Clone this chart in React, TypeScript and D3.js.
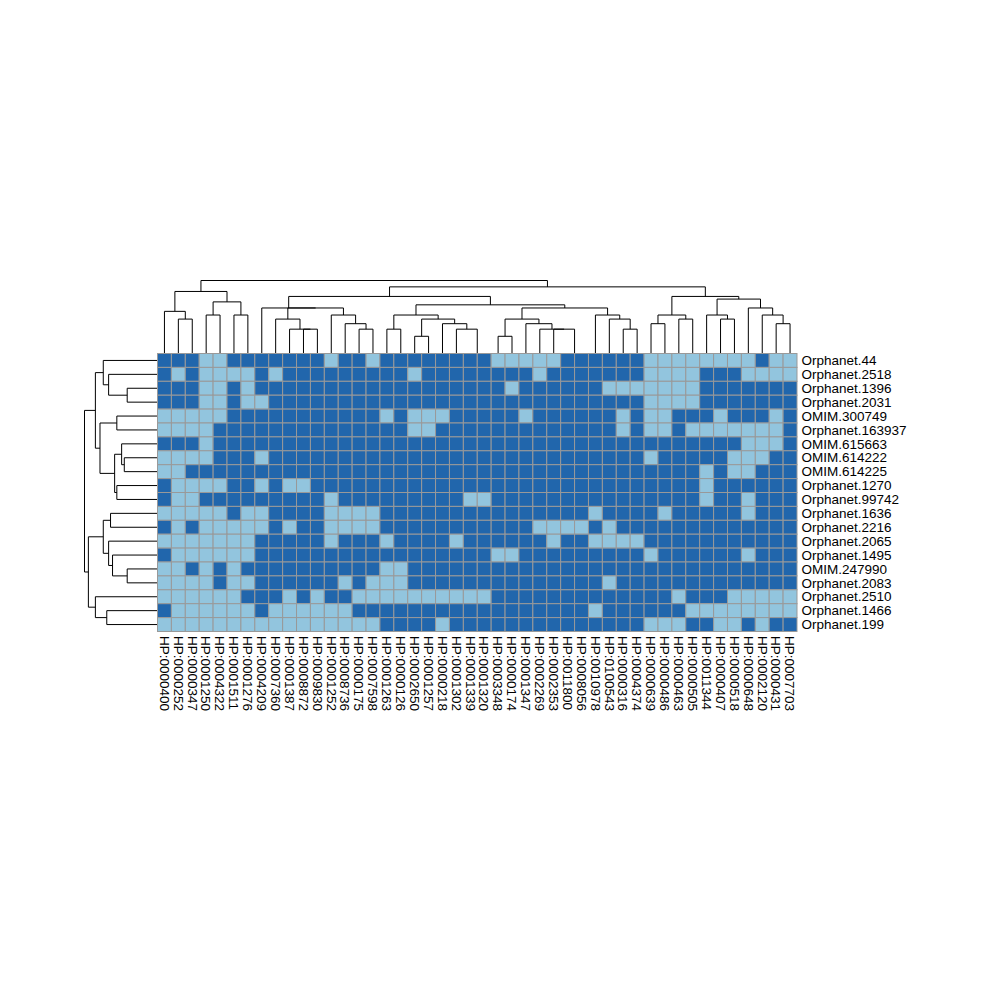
import React from 'react';
import * as d3 from 'd3';

const rowLabels = [
  'Orphanet.44', 'Orphanet.2518', 'Orphanet.1396', 'Orphanet.2031', 'OMIM.300749',
  'Orphanet.163937', 'OMIM.615663', 'OMIM.614222', 'OMIM.614225', 'Orphanet.1270',
  'Orphanet.99742', 'Orphanet.1636', 'Orphanet.2216', 'Orphanet.2065', 'Orphanet.1495',
  'OMIM.247990', 'Orphanet.2083', 'Orphanet.2510', 'Orphanet.1466', 'Orphanet.199',
];

const colLabels = [
  'HP:0000400', 'HP:0000252', 'HP:0000347', 'HP:0001250', 'HP:0004322', 'HP:0001511',
  'HP:0001276', 'HP:0004209', 'HP:0007360', 'HP:0001387', 'HP:0008872', 'HP:0009830',
  'HP:0001252', 'HP:0008736', 'HP:0000175', 'HP:0007598', 'HP:0001263', 'HP:0000126',
  'HP:0002650', 'HP:0001257', 'HP:0000218', 'HP:0001302', 'HP:0001339', 'HP:0001320',
  'HP:0003348', 'HP:0000174', 'HP:0001347', 'HP:0002269', 'HP:0002353', 'HP:0011800',
  'HP:0008056', 'HP:0010978', 'HP:0100543', 'HP:0000316', 'HP:0004374', 'HP:0000639',
  'HP:0000486', 'HP:0000463', 'HP:0000505', 'HP:0011344', 'HP:0000407', 'HP:0000518',
  'HP:0000648', 'HP:0002120', 'HP:0000431', 'HP:0007703',
];

// 1 = present (dark blue), 0 = absent (light blue); one string per row, in column order
const matrixRows = [
  '1110011111110110 111111110000011 111100000000100',
  '1010000101111111 110111111110111 111100001110000',
  '1110010111111111 111111111011111 100000001111111',
  '1110010011111111 111111111111111 111100001111111',
  '0000011111111111 010001111101111 110100111011101',
  '0000111111111111 110011111111111 110100100000001',
  '1110111111111111 111111111111111 111111111110001',
  '0000111011111111 111111111111111 111101111100011',
  '0011111111111111 111111111111111 111111110100111',
  '1000011010011111 111111111111111 111111110111111',
  '1001111111110111 111111001111111 111111110110111',
  '0000010011110000 111111111111111 011110111110111',
  '1010000010110000 111111111110000 101111111111111',
  '0000000111110111 011110111111011 000011111111111',
  '1000000111111111 111111110011111 111101111110111',
  '0010101111111111 001111111111111 111111111111111',
  '0000100111111010 001111111111111 101111111111111',
  '0000001110101100 000000001111111 111111011100000',
  '1000000100000011 111111111111111 011111100000000',
  '0000000000000000 111101111111111 111100011001011',
];

// dendrogram topologies (leaf = index in display order)
const rowTree: any = [
  [[0, [1, [2, 3]]], [[4, 5], [[6, [7, 8]], [9, 10]]]],
  [[[11, 12], [13, [14, [15, 16]]]], [17, [18, 19]]],
];
const colTree: any = [
  [[0, [1, 2]], [[3, 4], [5, 6]]],
  [
    [
      [7, [[8, [9, [10, 11]]], [12, [13, [14, 15]]]]],
      [
        [[16, 17], [[18, 19], [20, [21, [22, 23]]]]],
        [[[24, 25], [26, [27, [28, [29, 30]]]]], [31, [32, [33, 34]]]],
      ],
    ],
    [[[35, 36], [37, 38]], [[39, [40, 41]], [42, [43, [44, 45]]]]],
  ],
];

const colorOn = '#2166AC';
const colorOff = '#92C5DE';
const borderColor = '#999999';

type Node = { pos: number; h: number; kids: Node[]; leaves: number[] };

function euclid(a: number[], b: number[]) {
  let s = 0;
  for (let i = 0; i < a.length; i++) s += (a[i] - b[i]) ** 2;
  return Math.sqrt(s);
}

// complete-linkage merge heights computed from the matrix for the given topology
function build(t: any, vec: (i: number) => number[]): Node {
  if (typeof t === 'number') return { pos: t, h: 0, kids: [], leaves: [t] };
  const kids = t.map((c: any) => build(c, vec));
  const [a, b] = kids;
  let h = 0;
  for (const i of a.leaves) for (const j of b.leaves) h = Math.max(h, euclid(vec(i), vec(j)));
  return { pos: (a.pos + b.pos) / 2, h, kids, leaves: [...a.leaves, ...b.leaves] };
}

function internal(n: Node, out: Node[] = []): Node[] {
  if (n.kids.length) {
    out.push(n);
    n.kids.forEach((k) => internal(k, out));
  }
  return out;
}

export default function App() {
  const matrix = matrixRows.map((r) => r.replace(/ /g, '').split('').map(Number));
  const nR = rowLabels.length;
  const nC = colLabels.length;

  const left = 157.5, right = 797, top = 353.5, bottom = 631.5;
  const treeH = 73;

  const xBand = d3.scaleBand<number>().domain(d3.range(nC)).range([left, right]);
  const yBand = d3.scaleBand<number>().domain(d3.range(nR)).range([top, bottom]);
  const xPos = d3.scaleLinear().domain([-0.5, nC - 0.5]).range([left, right]);
  const yPos = d3.scaleLinear().domain([-0.5, nR - 0.5]).range([top, bottom]);

  const rowRoot = build(rowTree, (i) => matrix[i]);
  const colRoot = build(colTree, (j) => matrix.map((r) => r[j]));

  const colH = d3.scaleLinear().domain([0, colRoot.h]).range([top, top - treeH]);
  const rowH = d3.scaleLinear().domain([0, rowRoot.h]).range([left, left - treeH]);

  const colPaths = internal(colRoot).map((n) => {
    const [a, b] = n.kids;
    return `M${xPos(a.pos)},${colH(a.h)}V${colH(n.h)}H${xPos(b.pos)}V${colH(b.h)}`;
  });
  const rowPaths = internal(rowRoot).map((n) => {
    const [a, b] = n.kids;
    return `M${rowH(a.h)},${yPos(a.pos)}H${rowH(n.h)}V${yPos(b.pos)}H${rowH(b.h)}`;
  });

  const font = "'Liberation Sans', Arial, Helvetica, sans-serif";

  return (
    <svg width={1000} height={1000} style={{ position: 'absolute', left: 0, top: 0, background: '#fff' }}>
      <g fill="none" stroke="#000" strokeWidth={1}>
        {colPaths.map((d, i) => <path key={`c${i}`} d={d} />)}
        {rowPaths.map((d, i) => <path key={`r${i}`} d={d} />)}
      </g>
      <g>
        {matrix.map((row, i) =>
          row.map((v, j) => (
            <rect
              key={`${i}-${j}`}
              x={xBand(j)}
              y={yBand(i)}
              width={xBand.bandwidth()}
              height={yBand.bandwidth()}
              fill={v ? colorOn : colorOff}
              stroke={borderColor}
              strokeWidth={1}
            />
          ))
        )}
      </g>
      <g fontFamily={font} fontSize={13.5} fill="#000">
        {rowLabels.map((l, i) => (
          <text key={l} x={right + 4.5} y={yPos(i)} dy="0.35em">{l}</text>
        ))}
        {colLabels.map((l, j) => (
          <text key={l} transform={`translate(${xPos(j)},${bottom + 4.5}) rotate(90)`} dy="0.35em">{l}</text>
        ))}
      </g>
    </svg>
  );
}
